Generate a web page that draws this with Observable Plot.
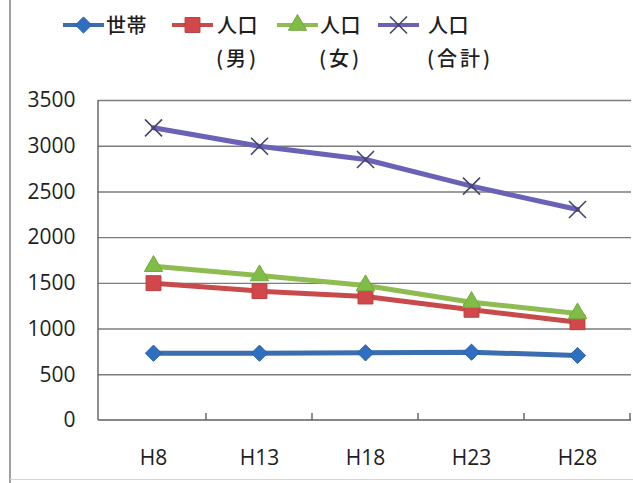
<!DOCTYPE html>
<html>
<head>
<meta charset="utf-8">
<script src="https://cdn.jsdelivr.net/npm/d3@7"></script>
<script src="https://cdn.jsdelivr.net/npm/@observablehq/plot@0.6"></script>
<style>
  html, body { margin: 0; padding: 0; background: #fff; }
  #chart { position: relative; width: 633px; height: 483px; overflow: hidden; background: #fff;
           font-family: "Noto Sans CJK JP", sans-serif; color: #1e1e1e; }
  #frameL { position: absolute; left: 9px; top: 0; width: 2px; height: 483px; background: #a0a0a0; }
  #frameB { position: absolute; left: 10px; top: 479px; width: 623px; height: 1px; background: #d4d4d4; }
  #legend { position: absolute; left: 0; top: 0; width: 633px; height: 80px; }
  .icon { position: absolute; top: 13px; }
  .label { position: absolute; top: 8px; font-size: 20px; font-weight: 500; line-height: 33px; white-space: nowrap; letter-spacing: 0.5px; }
  .label .sub { letter-spacing: 3px; margin-left: -1px; }
  #plot { position: absolute; left: 0; top: 80px; }
</style>
</head>
<body>
<div id="chart">
  <div id="legend"></div>
  <div id="plot"></div>
  <div id="frameL"></div>
  <div id="frameB"></div>
</div>
<script>
// Survey years (Heisei era) and the four series
const years = ["H8", "H13", "H18", "H23", "H28"];
const households = [736, 736, 740, 747, 711];
const popMale = [1502, 1415, 1356, 1211, 1075];
const popFemale = [1688, 1586, 1477, 1294, 1170];
const popTotal = [3201, 3000, 2855, 2563, 2308];
const yTicks = [0, 500, 1000, 1500, 2000, 2500, 3000, 3500];

// Series names (first line / second line of the legend label)
const seriesNames = [["世帯"], ["人口", "(男)"], ["人口", "(女)"], ["人口", "(合計)"]];
const seriesValues = [households, popMale, popFemale, popTotal];

// Styling per series: line colour, marker symbol and look
const seriesStyle = [
  {line: "#3b6db0", symbol: "diamond2", r: 7.3, fill: "#2f6fc2", stroke: "#2a5f9e", sw: 1},
  {line: "#c64b4a", symbol: "square",   r: 8.4, fill: "#d2474a", stroke: "#b64040", sw: 1},
  {line: "#8fbc50", symbol: "triangle", r: 6.8, fill: "#80bd46", stroke: "#74a83f", sw: 1},
  {line: "#6a62b6", symbol: "times",    r: 7.8, fill: "none",    stroke: "#46446c", sw: 1.6}
];
const legendX = [[63, 106], [172, 217], [277, 320], [378, 428]];

// Long-format rows built from the arrays above
const rows = seriesValues.flatMap((vals, s) =>
  years.map((year, i) => ({series: s, year, value: vals[i]})));

// Legend (HTML above the plot)
const legend = d3.select("#legend");
const symbolOf = {diamond2: d3.symbolDiamond2, square: d3.symbolSquare, triangle: d3.symbolTriangle, times: d3.symbolTimes};
seriesNames.forEach((name, s) => {
  const st = seriesStyle[s];
  const svg = legend.append("svg").attr("class", "icon")
    .style("left", legendX[s][0] + "px").attr("width", 42).attr("height", 24);
  svg.append("line").attr("x1", 0).attr("x2", 41).attr("y1", 12).attr("y2", 12)
    .attr("stroke", st.line).attr("stroke-width", 4);
  svg.append("path")
    .attr("d", d3.symbol(symbolOf[st.symbol], st.r * st.r * Math.PI)())
    .attr("transform", "translate(20.5,12)")
    .attr("fill", st.fill).attr("stroke", st.stroke).attr("stroke-width", st.sw);
  const label = legend.append("div").attr("class", "label").style("left", legendX[s][1] + "px");
  label.append("div").text(name[0]);
  if (name[1]) label.append("div").attr("class", "sub").text(name[1]);
});

// Axis lines along the left and bottom edges, with category-boundary ticks
function axisFrame(index, scales, values, dimensions) {
  const {x, y} = scales;
  const step = x(years[1]) - x(years[0]);
  const y0 = y(0), yTop = y(d3.max(yTicks));
  const g = d3.create("svg:g").attr("stroke", "#5f5f5f").attr("stroke-width", 1.4).attr("fill", "none");
  g.append("line").attr("x1", dimensions.marginLeft).attr("x2", dimensions.marginLeft)
    .attr("y1", yTop).attr("y2", y0);
  g.append("line").attr("x1", dimensions.marginLeft).attr("x2", dimensions.width - dimensions.marginRight)
    .attr("y1", y0).attr("y2", y0);
  for (const c of years) {
    const bx = x(c) + step / 2;
    g.append("line").attr("x1", bx).attr("x2", bx).attr("y1", y0).attr("y2", y0 - 7);
  }
  return g.node();
}

const chart = Plot.plot({
  width: 633,
  height: 403,
  marginLeft: 98,
  marginRight: 2,
  marginTop: 20,
  marginBottom: 63,
  style: {fontFamily: '"Open Sans", sans-serif', fontSize: "21px", color: "#1e1e1e", background: "transparent", overflow: "visible"},
  x: {type: "point", domain: years, padding: 0.5, label: null, tickSize: 0, tickPadding: 30},
  y: {domain: [0, 3500], ticks: yTicks, tickSize: 0, tickPadding: 23, label: null, tickFormat: d => String(d)},
  marks: [
    Plot.ruleY(yTicks.filter(v => v > 0), {stroke: "#7c7c7c", strokeWidth: 1.4}),
    axisFrame,
    ...seriesStyle.flatMap((st, s) => {
      const data = rows.filter(d => d.series === s);
      return [
        Plot.line(data, {x: "year", y: "value", stroke: st.line, strokeWidth: 5, strokeLinejoin: "round", strokeLinecap: "round"}),
        Plot.dot(data, {x: "year", y: "value", symbol: () => st.symbol, r: st.r, fill: st.fill, stroke: st.stroke, strokeWidth: st.sw})
      ];
    })
  ]
});
document.getElementById("plot").appendChild(chart);
</script>
</body>
</html>
